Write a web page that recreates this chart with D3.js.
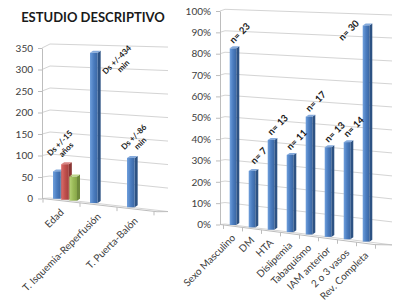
<!DOCTYPE html>
<html>
<head>
<meta charset="utf-8">
<script src="https://cdn.jsdelivr.net/npm/d3@7"></script>
<style>
  body { margin: 0; background: #fff; }
  svg { display: block; font-family: Lato, "Open Sans", sans-serif; }
</style>
</head>
<body>
<svg id="chart" width="394" height="304"></svg>
<script>
/*
** Data
*/
var leftCats = ["Edad", "T. Isquemia-Reperfusión", "T. Puerta-Balón"]
  , leftBlue = [62, 333, 107]
  , leftRed = [80, null, null]
  , leftGreen = [54, null, null]
  , leftNotes = [["Ds +/-15", "años"], ["Ds +/-434", "min"], ["Ds +/-86", "min"]]
  , leftTicks = [0, 50, 100, 150, 200, 250, 300, 350]
;
var rightCats = ["Sexo Masculino", "DM", "HTA", "Dislipemia", "Tabaquismo",
                 "IAM anterior", "2 o 3 vasos", "Rev. Completa"]
  , rightValues = [82, 26, 41, 35, 53, 40, 43, 95]
  , rightNotes = [["n= 23"], ["n= 7"], ["n= 13"], ["n= 11"], ["n= 17"],
                  ["n= 13"], ["n= 14"], ["n= 30"]]
  , rightTicks = [0, 10, 20, 30, 40, 50, 60, 70, 80, 90, 100]
;

var palette = [
    { front: ["#6f9fdc", "#4a7cbf", "#3b67a3"], side: "#2d5283", top: "#86abdc" }
  , { front: ["#dc6e6b", "#c0504d", "#a4403d"], side: "#8a3634", top: "#d98583" }
  , { front: ["#b7d479", "#9bbb59", "#86a548"], side: "#6f8a3c", top: "#bdd68c" }
];

var svg = d3.select("#chart");

// gradients for the bar fronts
var defs = svg.append("defs");
palette.forEach(function(p, i) {
    var grad = defs.append("linearGradient")
        .attr("id", "front" + i)
        .attr("x1", 0).attr("x2", 1).attr("y1", 0).attr("y2", 0);
    grad.selectAll("stop")
        .data(p.front)
      .enter().append("stop")
        .attr("offset", function(d, j) { return j / (p.front.length - 1); })
        .attr("stop-color", function(d) { return d; });
});

svg.append("text")
    .attr("x", 93)
    .attr("y", 22)
    .attr("text-anchor", "middle")
    .style("font-size", "13px")
    .style("font-weight", "bold")
    .style("fill", "#1a1a1a")
    .text("ESTUDIO DESCRIPTIVO");

/*
** A fake-perspective 3D column panel
*/
function panel(cfg) {
  var g = svg.append("g")
    , yAxis = d3.scaleLinear().domain([0, cfg.max]).range([cfg.labelBottom, cfg.labelTop])
    , x = d3.scaleBand().domain(cfg.cats).range(cfg.band)
    , inner = d3.scaleBand().domain(d3.range(cfg.series.length))
          .range(cfg.slot).paddingInner(0.06)
    , dx = 3, dy = -2
  ;

  function yTop(px) { return cfg.top0 + cfg.topSlope * (px - cfg.backX); }
  function yBot(px) { return cfg.bot0 + cfg.botSlope * (px - cfg.backX); }
  function proj(v, px) {
      return d3.scaleLinear().domain([0, cfg.max]).range([yBot(px), yTop(px)])(v);
  }
  function floorFront(px) { return yAxis(0) + cfg.floorSlope * (px - cfg.axisX); }

  // gridlines: left wall piece + back wall piece
  g.append("g")
    .selectAll("path")
      .data(cfg.ticks)
    .enter().append("path")
      .attr("d", function(v) {
          return d3.line()([
              [cfg.axisX, yAxis(v)],
              [cfg.backX, proj(v, cfg.backX)],
              [cfg.rightX, proj(v, cfg.rightX)]
          ]);
        })
      .attr("fill", "none")
      .attr("stroke", "#d4d4d4")
      .attr("stroke-width", 1);

  // floor outline
  g.append("path")
      .attr("d", d3.line()([
          [cfg.axisX, yAxis(0)],
          [cfg.floorRightX, floorFront(cfg.floorRightX)],
          [cfg.rightX, yBot(cfg.rightX)]
      ]))
      .attr("fill", "none")
      .attr("stroke", "#bdbdbd");

  // category tick marks on the floor edge
  var bounds = cfg.cats.map(function(c) { return x(c); }).concat([cfg.band[1]]);
  g.append("g")
    .selectAll("line")
      .data(bounds)
    .enter().append("line")
      .attr("x1", function(d) { return d; })
      .attr("x2", function(d) { return d; })
      .attr("y1", function(d) { return floorFront(d); })
      .attr("y2", function(d) { return floorFront(d) + 4; })
      .attr("stroke", "#bdbdbd");

  // value axis on the front edge of the left wall
  var axis = g.append("g")
      .attr("transform", "translate(" + cfg.axisX + ",0)")
      .call(d3.axisLeft(yAxis)
          .tickValues(cfg.ticks)
          .tickSize(4)
          .tickSizeOuter(0)
          .tickPadding(5)
          .tickFormat(cfg.format));
  axis.select(".domain").attr("stroke", "#bdbdbd");
  axis.selectAll(".tick line").attr("stroke", "#bdbdbd");
  axis.selectAll(".tick text")
      .style("font-family", "Lato, sans-serif")
      .style("font-size", "10px")
      .style("fill", "#404040");

  // bars
  var bars = [];
  cfg.series.forEach(function(vals, s) {
      vals.forEach(function(v, i) {
          if (v == null) return;
          var x0 = x(cfg.cats[i]) + inner(s)
            , x1 = x0 + inner.bandwidth()
            , xc = (x0 + x1) / 2
          ;
          bars.push({ s: s, i: i, v: v, x0: x0, x1: x1,
                      yt: proj(v, xc), yb: proj(0, xc) });
      });
  });
  bars.sort(function(a, b) { return a.x0 - b.x0; });

  var bar = g.append("g")
    .selectAll("g")
      .data(bars)
    .enter().append("g");
  bar.append("path")
      .attr("d", function(d) {
          return d3.line()([[d.x1, d.yt], [d.x1 + dx, d.yt + dy],
                            [d.x1 + dx, d.yb + dy], [d.x1, d.yb]]) + "Z";
        })
      .attr("fill", function(d) { return palette[d.s].side; });
  bar.append("path")
      .attr("d", function(d) {
          return d3.line()([[d.x0, d.yt], [d.x0 + dx, d.yt + dy],
                            [d.x1 + dx, d.yt + dy], [d.x1, d.yt]]) + "Z";
        })
      .attr("fill", function(d) { return palette[d.s].top; });
  bar.append("rect")
      .attr("x", function(d) { return d.x0; })
      .attr("y", function(d) { return d.yt; })
      .attr("width", function(d) { return d.x1 - d.x0; })
      .attr("height", function(d) { return d.yb - d.yt; })
      .attr("fill", function(d) { return "url(#front" + d.s + ")"; });

  // annotations, above the bars or beside the tall ones
  cfg.notes.forEach(function(lines, i) {
      var own = bars.filter(function(b) { return b.i === i; })
        , first = own[0]
        , topY = d3.min(own, function(b) { return b.yt; })
        , tall = d3.max(own, function(b) { return b.v; }) > cfg.max * 0.9
        , cx = (first.x0 + first.x1) / 2
        , px, py
      ;
      if (tall && i === cfg.cats.length - 1) { px = cx - 17; py = topY + 5; }
      else if (tall) { px = cx + 26; py = topY + 10; }
      else { px = cx + cfg.noteDx; py = topY - cfg.noteDy; }
      var t = g.append("text")
          .attr("transform", "translate(" + px + "," + py + ") rotate(-45)")
          .attr("text-anchor", "middle")
          .style("font-size", cfg.noteSize)
          .style("font-weight", "bold")
          .style("fill", "#1a1a1a");
      t.selectAll("tspan")
          .data(lines)
        .enter().append("tspan")
          .attr("x", 0)
          .attr("y", function(d, j) {
              return (j - (lines.length - 1) / 2) * 9 + 3;
            })
          .text(function(d) { return d; });
  });

  // category labels
  g.append("g")
    .selectAll("text")
      .data(cfg.cats)
    .enter().append("text")
      .attr("transform", function(c) {
          var cx = x(c) + x.bandwidth() / 2 + cfg.labelDx;
          return "translate(" + cx + "," + (floorFront(cx) + 12) + ") rotate(-45)";
        })
      .attr("text-anchor", "end")
      .style("font-size", "10px")
      .style("fill", "#404040")
      .text(function(c) { return c; });
}

panel({
    cats: leftCats
  , series: [leftBlue, leftRed, leftGreen]
  , notes: leftNotes
  , ticks: leftTicks
  , max: 350
  , format: d3.format("d")
  , axisX: 42, backX: 50, rightX: 168, floorRightX: 157
  , labelTop: 48, labelBottom: 198.5
  , top0: 44, topSlope: 0.026
  , bot0: 198, botSlope: 0.115
  , floorSlope: 0.115
  , band: [43, 154], slot: [10, 34]
  , labelDx: 3
  , noteDx: 6, noteDy: 18, noteSize: "8px"
});

panel({
    cats: rightCats
  , series: [rightValues]
  , notes: rightNotes
  , ticks: rightTicks
  , max: 100
  , format: function(d) { return d + "%"; }
  , axisX: 220, backX: 225, rightX: 392, floorRightX: 375
  , labelTop: 11, labelBottom: 224.5
  , top0: 9.3, topSlope: 0.034
  , bot0: 224, botSlope: 0.125
  , floorSlope: 0.13
  , band: [223.5, 375.5], slot: [6, 13]
  , labelDx: 3
  , noteDx: 7, noteDy: 15, noteSize: "9.5px"
});
</script>
</body>
</html>
